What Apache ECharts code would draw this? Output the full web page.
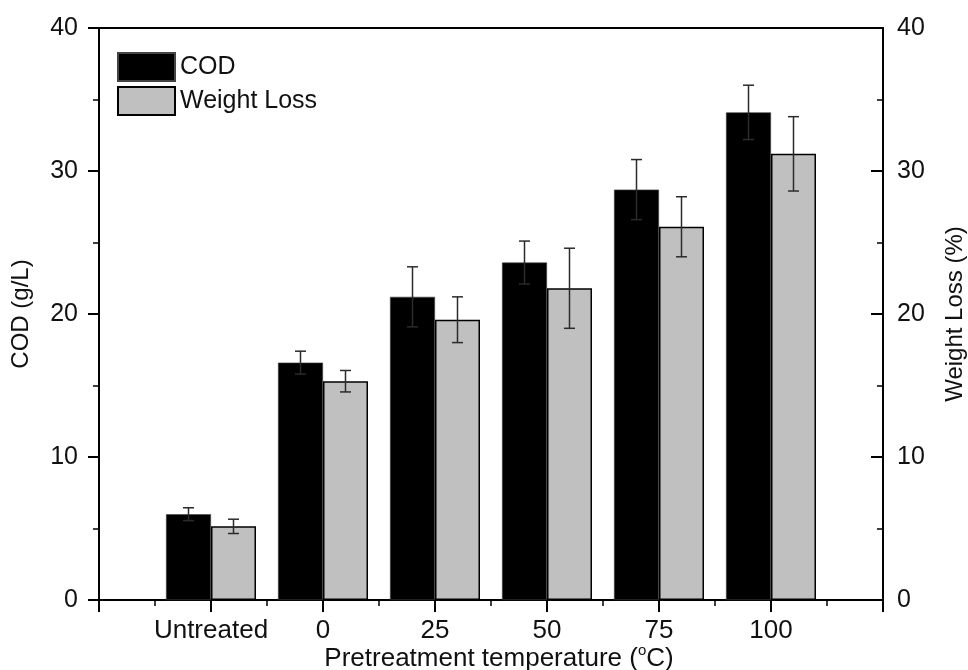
<!DOCTYPE html>
<html>
<head>
<meta charset="utf-8">
<title>COD and weight loss vs pretreatment temperature</title>
<script src="https://cdn.jsdelivr.net/npm/echarts@6/dist/echarts.min.js"></script>
<style>
  html, body { margin: 0; padding: 0; background: #fff; }
  #chart { width: 968px; height: 670px; }
</style>
</head>
<body>
<div id="chart"></div>
<script>
// values
const categories = ["Untreated", "0", "25", "50", "75", "100"];
const codValues = [6.0, 16.6, 21.2, 23.6, 28.7, 34.1];
const codErrors = [0.45, 0.8, 2.1, 1.5, 2.1, 1.9];
const weightLossValues = [5.15, 15.3, 19.6, 21.8, 26.1, 31.2];
const weightLossErrors = [0.5, 0.75, 1.6, 2.8, 2.1, 2.6];
const yTicks = [0, 10, 20, 30, 40];

const FONT = "'Liberation Sans', Arial, sans-serif";
const BAR_W = 45;

// categories sit at 1..6 on a 0..7 value axis
const pos = (i) => i + 1;
const codData = codValues.map((v, i) => [pos(i), v]);
const wlData = weightLossValues.map((v, i) => [pos(i), v]);
const codErr = codValues.map((v, i) => [pos(i), v, codErrors[i]]);
const wlErr = weightLossValues.map((v, i) => [pos(i), v, weightLossErrors[i]]);

function errorBars(shift) {
    return function (params, api) {
        const x = api.value(0);
        const v = api.value(1);
        const e = api.value(2);
        const hi = api.coord([x, v + e]);
        const lo = api.coord([x, v - e]);
        const cx = hi[0] + shift;
        const cap = 5.5;
        const style = { stroke: "#2b2b2b", lineWidth: 1.5 };
        return {
            type: "group",
            children: [
                { type: "line", shape: { x1: cx, y1: hi[1], x2: cx, y2: lo[1] }, style },
                { type: "line", shape: { x1: cx - cap, y1: hi[1], x2: cx + cap, y2: hi[1] }, style },
                { type: "line", shape: { x1: cx - cap, y1: lo[1], x2: cx + cap, y2: lo[1] }, style },
            ],
        };
    };
}

const yAxisCommon = {
    type: "value",
    min: yTicks[0],
    max: yTicks[yTicks.length - 1],
    interval: 10,
    splitLine: { show: false },
    axisLine: { show: true, lineStyle: { color: "#000", width: 2 } },
    axisTick: { show: true, length: 11, lineStyle: { color: "#000", width: 2 } },
    minorTick: { show: true, splitNumber: 2, length: 6, lineStyle: { color: "#000", width: 1.5 } },
    nameLocation: "middle",
    nameRotate: 90,
    nameMoveOverlap: false,
    nameTextStyle: { fontFamily: FONT, fontSize: 24, color: "#111" },
    axisLabel: { fontFamily: FONT, fontSize: 25, color: "#111" },
};

const chart = echarts.init(document.getElementById("chart"), null, { renderer: "canvas" });

chart.setOption({
    animation: false,
    backgroundColor: "#fff",
    grid: {
        left: 99, right: 85, top: 28, bottom: 70,
        outerBoundsMode: "none",
        containLabel: false,
        show: true, borderColor: "#000", borderWidth: 2, backgroundColor: "transparent",
    },
    legend: {
        data: ["COD", "Weight Loss"],
        orient: "vertical",
        left: 117, top: 52,
        padding: 0,
        itemWidth: 57, itemHeight: 28, itemGap: 4,
        icon: "rect",
        textStyle: { fontFamily: FONT, fontSize: 25, lineHeight: 28, color: "#111" },
    },
    xAxis: {
        type: "value",
        min: 0, max: 7, interval: 1,
        splitLine: { show: false },
        axisLine: { lineStyle: { color: "#000", width: 2 } },
        axisTick: { show: true, length: 12, lineStyle: { color: "#000", width: 2 } },
        minorTick: { show: true, splitNumber: 2, length: 6, lineStyle: { color: "#000", width: 1.5 } },
        axisLabel: {
            fontFamily: FONT, fontSize: 26, color: "#111", margin: 18,
            showMinLabel: false, showMaxLabel: false,
            formatter: (v) => categories[v - 1] ?? "",
        },
        name: "Pretreatment temperature ({sup|o}C)",
        nameLocation: "middle",
        nameGap: 43,
        nameMoveOverlap: false,
        nameTextStyle: {
            fontFamily: FONT, fontSize: 26, color: "#111",
            padding: [0, 0, 0, 16],
            rich: { sup: { fontFamily: FONT, fontSize: 15, color: "#111", padding: [0, 0, 16, 0] } },
        },
    },
    yAxis: [
        Object.assign({}, yAxisCommon, {
            position: "left",
            name: "COD (g/L)",
            nameGap: 66,
            axisLabel: Object.assign({}, yAxisCommon.axisLabel, { margin: 21 }),
        }),
        Object.assign({}, yAxisCommon, {
            position: "right",
            name: "Weight Loss (%)",
            nameGap: 60,
            axisTick: Object.assign({}, yAxisCommon.axisTick, { inside: true, length: 12 }),
            minorTick: Object.assign({}, yAxisCommon.minorTick, { inside: true }),
            axisLabel: Object.assign({}, yAxisCommon.axisLabel, { margin: 14 }),
        }),
    ],
    series: [
        {
            name: "COD",
            type: "bar",
            yAxisIndex: 0,
            data: codData,
            barWidth: BAR_W,
            barGap: "0%",
            itemStyle: { color: "#000", borderColor: "#444", borderWidth: 0.6 },
            z: 2,
        },
        {
            name: "Weight Loss",
            type: "bar",
            yAxisIndex: 1,
            data: wlData,
            barWidth: BAR_W,
            barGap: "0%",
            itemStyle: { color: "#c0c0c0", borderColor: "#000", borderWidth: 1.5 },
            z: 2,
        },
        {
            name: "COD error",
            type: "custom",
            yAxisIndex: 0,
            data: codErr,
            renderItem: errorBars(-BAR_W / 2),
            z: 3,
        },
        {
            name: "Weight Loss error",
            type: "custom",
            yAxisIndex: 1,
            data: wlErr,
            renderItem: errorBars(BAR_W / 2),
            z: 3,
        },
    ],
});
</script>
</body>
</html>
